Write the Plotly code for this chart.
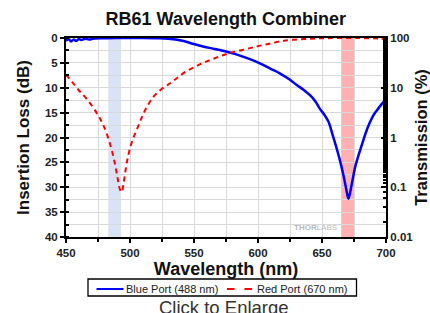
import plotly.graph_objects as go

# ---- data ----
blue_wl = [450, 452, 454, 456, 458, 460, 462, 465, 468, 472, 480, 490, 500, 510, 520, 530, 540, 547, 557, 566, 575, 583, 591, 598, 604, 610, 617, 625, 630, 636, 641, 645, 648, 652, 655, 658, 661, 664, 666.5, 668.5, 669.7, 670.6, 671.5, 672.5, 674, 676, 678.5, 681, 684, 687, 690, 693, 696, 700]
blue_il = [0.6, 0.2, 0.7, 0.3, 0.6, 0.2, 0.4, 0.15, 0.3, 0.1, 0.05, 0.0, 0.0, 0.0, 0.05, 0.15, 0.5, 1.0, 1.7, 2.2, 2.7, 3.3, 4.0, 4.7, 5.4, 6.2, 7.1, 8.4, 9.4, 10.5, 11.6, 12.8, 14.1, 15.5, 16.8, 19.2, 21.8, 24.6, 27.3, 29.8, 31.4, 32.3, 31.6, 30.4, 28.4, 25.8, 23.6, 21.6, 19.2, 17.2, 15.6, 14.5, 13.5, 12.3]

red_wl = [450, 455, 460, 467, 475, 480, 485, 488, 490, 492, 493.5, 495, 497, 499, 502, 506, 510, 514, 519, 525, 532, 537, 544, 553, 560, 570, 578, 588, 599, 608, 617, 627, 640, 650, 660, 680, 695, 700]
red_il = [7.4, 8.9, 10.5, 12.5, 15.5, 18.0, 21.8, 25.0, 27.7, 30.3, 31.0, 29.2, 25.8, 23.2, 20.5, 18.0, 15.5, 13.5, 11.6, 10.2, 9.0, 8.0, 6.7, 5.5, 4.7, 3.7, 3.0, 2.4, 1.7, 1.2, 0.7, 0.35, 0.15, 0.05, 0.02, 0.02, 0.1, 0.3]

series_names = ["Blue Port (488 nm)", "Red Port (670 nm)"]
series_colors = ["#0000ff", "#ff0000"]

blue_band = [483, 493]
red_band = [665, 675]

x_ticks = [450, 500, 550, 600, 650, 700]
y_ticks = [0, 5, 10, 15, 20, 25, 30, 35, 40]
t_ticks = [0.01, 0.1, 1, 10, 100]
t_labels = ["0.01", "0.1", "1", "10", "100"]

FONT = "Arial, Liberation Sans, sans-serif"
W, H = 430, 313
ML, MR, MT, MB = 66, 44, 38, 76
PW, PH = W - ML - MR, H - MT - MB


def px(x):
    return (x - ML) / PW


def py(y):
    return (H - MB - y) / PH


fig = go.Figure()

fig.add_trace(go.Scatter(x=blue_wl, y=blue_il, mode="lines", name=series_names[0],
                         line=dict(color=series_colors[0], width=2.5), line_shape="spline"))
fig.add_trace(go.Scatter(x=red_wl, y=red_il, mode="lines", name=series_names[1],
                         line=dict(color=series_colors[1], width=2, dash="5px,4px"), line_shape="spline"))
# invisible trace to carry the right (transmission) axis
fig.add_trace(go.Scatter(x=[450, 700], y=[100, 0.01], yaxis="y2", mode="lines",
                         line=dict(width=0, color="rgba(0,0,0,0)"), showlegend=False, hoverinfo="skip"))

fig.add_vrect(x0=blue_band[0], x1=blue_band[1], fillcolor="#dae3f5", line_width=0, layer="below")
fig.add_vrect(x0=red_band[0], x1=red_band[1], fillcolor="#ffb0b0", line_width=0, layer="below")

fig.update_layout(
    width=W, height=H,
    margin=dict(l=ML, r=MR, t=MT, b=MB, autoexpand=False),
    paper_bgcolor="white", plot_bgcolor="white",
    font=dict(family=FONT, color="#111"),
    title=dict(text="<b>RB61 Wavelength Combiner</b>", x=0.525, xanchor="center",
               y=0.94, yanchor="middle", font=dict(size=18, family=FONT, color="#111")),
    xaxis=dict(range=[450, 700], tickvals=x_ticks, ticktext=[f"<b>{v}</b>" for v in x_ticks],
               ticks="outside", ticklen=4, tickwidth=1.5, tickcolor="black", automargin=False,
               minor=dict(dtick=25, ticks="outside", ticklen=3, tickcolor="black", showgrid=True,
                          gridcolor="#d9d9d9", gridwidth=1),
               showgrid=True, gridcolor="#d9d9d9", gridwidth=1,
               showline=True, linecolor="black", linewidth=2, mirror=True,
               tickfont=dict(size=11.5, family=FONT, color="#222"),
               title=dict(text="<b>Wavelength (nm)</b>", font=dict(size=18, family=FONT, color="#111"),
                          standoff=2),
               zeroline=False),
    yaxis=dict(range=[40, 0], tickvals=y_ticks, ticktext=[f"<b>{v}</b>" for v in y_ticks],
               ticks="outside", ticklen=4, tickwidth=1.5, tickcolor="black", automargin=False,
               minor=dict(dtick=2.5, ticks="inside", ticklen=3, tickcolor="black", showgrid=True,
                          gridcolor="#d9d9d9", gridwidth=1),
               showgrid=True, gridcolor="#d9d9d9", gridwidth=1,
               showline=True, linecolor="black", linewidth=2,
               tickfont=dict(size=11.5, family=FONT, color="#222"),
               title=dict(text="<b>Insertion Loss (dB)</b>", font=dict(size=17, family=FONT, color="#111"),
                          standoff=11),
               zeroline=False),
    yaxis2=dict(type="log", range=[-2, 2], overlaying="y", side="right", automargin=False,
                tickvals=t_ticks, ticktext=[f"<b>{t}</b>" for t in t_labels],
                ticks="inside", ticklen=5, tickwidth=2, tickcolor="black",
                minor=dict(ticks="inside", ticklen=3, tickcolor="black", showgrid=False),
                showgrid=False, showline=True, linecolor="black", linewidth=2,
                tickfont=dict(size=11.5, family=FONT, color="#222"),
                title=dict(text="<b>Transmission (%)</b>", font=dict(size=16.5, family=FONT, color="#111"),
                           standoff=3),
                zeroline=False),
    showlegend=False,
)

# ---- compact legend box under the axis title (drawn as in the reference) ----
fig.add_shape(type="rect", xref="paper", yref="paper", x0=px(88), x1=px(356.5), y0=py(296), y1=py(279),
              line=dict(color="black", width=1.3), fillcolor="white", layer="above")
fig.add_shape(type="line", xref="paper", yref="paper", x0=px(96.5), x1=px(123.5), y0=py(289), y1=py(289),
              line=dict(color=series_colors[0], width=2), layer="above")
fig.add_shape(type="line", xref="paper", yref="paper", x0=px(227), x1=px(252.5), y0=py(289), y1=py(289),
              line=dict(color=series_colors[1], width=2, dash="7.5px,10px"), layer="above")
fig.add_annotation(text=series_names[0], x=px(124), y=py(288.5), xref="paper", yref="paper",
                   xanchor="left", yanchor="middle", showarrow=False,
                   font=dict(size=11, family=FONT, color="#222"))
fig.add_annotation(text=series_names[1], x=px(255), y=py(288.5), xref="paper", yref="paper",
                   xanchor="left", yanchor="middle", showarrow=False,
                   font=dict(size=11, family=FONT, color="#222"))

fig.add_annotation(text="<b>THOR</b>LABS", x=645, y=38, xref="x", yref="y",
                   showarrow=False, font=dict(size=8, family=FONT, color="#b8b8b8"))
fig.add_annotation(text="Click to Enlarge", x=px(223.5), y=py(294.5), xref="paper", yref="paper",
                   xanchor="center", yanchor="top", showarrow=False,
                   font=dict(size=18.5, family=FONT, color="#333"))

fig.write_html("out.html", config={"displayModeBar": False},
               post_script="document.body.style.margin='0';document.body.style.overflow='hidden';")
